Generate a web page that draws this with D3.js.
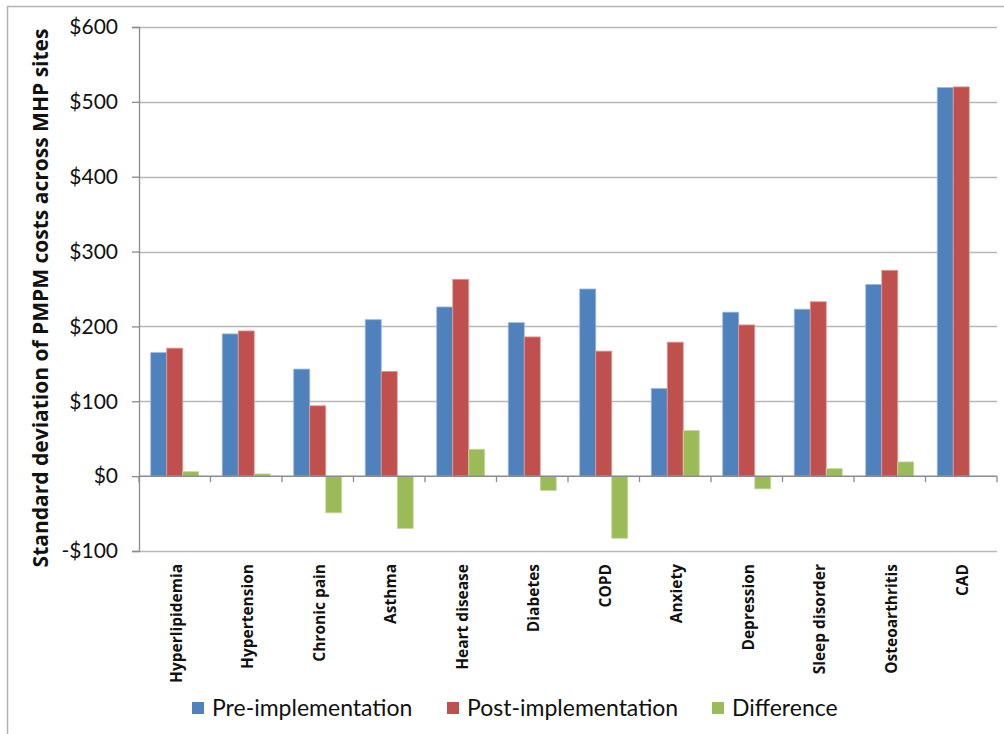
<!DOCTYPE html>
<html>
<head>
<meta charset="utf-8">
<script src="https://cdn.jsdelivr.net/npm/d3@7"></script>
<style>
  html, body { margin: 0; padding: 0; background: #fff; }
  svg { display: block; }
</style>
</head>
<body>
<svg id="chart" width="1004" height="734"></svg>
<script>
// Standard deviation of PMPM costs by condition, before and after implementation
const categories = ["Hyperlipidemia", "Hypertension", "Chronic pain", "Asthma", "Heart disease",
  "Diabetes", "COPD", "Anxiety", "Depression", "Sleep disorder", "Osteoarthritis", "CAD"];
const preValues  = [165, 190, 143, 209, 226, 205, 250, 117, 219, 223, 256, 519];
const postValues = [171, 194,  94, 140, 263, 186, 167, 179, 202, 233, 275, 520];
const diffValues = [6,   3,  -49, -70,  36, -19, -83,  61, -17,  10,  19,   0];
const seriesNames = ["Pre-implementation", "Post-implementation", "Difference"];
const seriesColors = ["#4F81BD", "#C0504D", "#9BBB59"];
const seriesEdges = ["#9DB5DA", "#DE9C9A", "#C6DAA2"];
const yTicks = [-100, 0, 100, 200, 300, 400, 500, 600];

const svg = d3.select("#chart");
const plot = { left: 139, right: 997, top: 27, bottom: 551 };
const labelFont = "'Open Sans', Lato, sans-serif";
const textFont = "Lato, 'Open Sans', sans-serif";

// outer frame
svg.append("rect")
  .attr("x", 7.5).attr("y", 6.5).attr("width", 1010).attr("height", 740)
  .attr("fill", "none").attr("stroke", "#b3b3b3").attr("stroke-width", 1.5);

const x = d3.scaleBand().domain(categories).range([plot.left, plot.right]).paddingInner(0).paddingOuter(0);
const inner = d3.scaleBand().domain(seriesNames).range([11.75, x.bandwidth() - 11.75]);
const y = d3.scaleLinear().domain([-100, 600]).range([plot.bottom, plot.top]);

// horizontal gridlines
svg.append("g").selectAll("line").data(yTicks.filter(t => t !== 0)).join("line")
  .attr("x1", plot.left).attr("x2", plot.right)
  .attr("y1", d => Math.round(y(d)) + 0.5).attr("y2", d => Math.round(y(d)) + 0.5)
  .attr("stroke", "#b8b8b8").attr("stroke-width", 1.3);

// bars
const rows = categories.map((c, i) => ({ c, vals: [preValues[i], postValues[i], diffValues[i]] }));
const groups = svg.append("g").selectAll("g").data(rows).join("g")
  .attr("transform", d => `translate(${x(d.c)},0)`);
groups.selectAll("rect")
  .data(d => d.vals.map((v, k) => ({ v, k })).filter(e => e.v !== 0))
  .join("rect")
  .attr("x", e => inner(seriesNames[e.k]))
  .attr("width", inner.bandwidth())
  .attr("y", e => y(Math.max(0, e.v)))
  .attr("height", e => Math.abs(y(e.v) - y(0)))
  .attr("fill", e => seriesColors[e.k])
  .attr("stroke", e => seriesEdges[e.k])
  .attr("stroke-width", 0.8);

// y axis
const yAxis = d3.axisLeft(y).tickValues(yTicks).tickSize(7).tickPadding(14)
  .tickFormat(d => (d < 0 ? "-$" : "$") + Math.abs(d));
const gy = svg.append("g").attr("transform", `translate(${plot.left},0)`).call(yAxis);
gy.select(".domain").attr("stroke", "#8c8c8c").attr("stroke-width", 1.3);
gy.selectAll(".tick line").attr("stroke", "#8c8c8c").attr("stroke-width", 1.3);
gy.selectAll(".tick text")
  .attr("font-family", textFont).attr("font-size", 21)
  .attr("fill", "#111");

// x axis at zero with boundary ticks
const zeroY = y(0);
svg.append("line").attr("x1", plot.left).attr("x2", plot.right)
  .attr("y1", zeroY).attr("y2", zeroY).attr("stroke", "#8c8c8c").attr("stroke-width", 1.5);
const bounds = categories.map(c => x(c)).concat([plot.right]);
svg.append("g").selectAll("line").data(bounds).join("line")
  .attr("x1", d => d).attr("x2", d => d).attr("y1", zeroY).attr("y2", zeroY + 6)
  .attr("stroke", "#8c8c8c").attr("stroke-width", 1.3);

// category labels, rotated
svg.append("g").selectAll("text").data(categories).join("text")
  .attr("transform", d => `translate(${x(d) + x.bandwidth() / 2 + 7},564) rotate(-90)`)
  .attr("text-anchor", "end")
  .attr("font-family", labelFont).attr("font-weight", "bold")
  .attr("font-size", 15.5).attr("fill", "#111")
  .text(d => d);

// y axis title
svg.append("text")
  .attr("transform", `translate(48,298) rotate(-90)`)
  .attr("text-anchor", "middle")
  .attr("font-family", labelFont).attr("font-weight", "bold")
  .attr("font-size", 21).attr("fill", "#111")
  .text("Standard deviation of PMPM costs across MHP sites");

// legend
const legendX = [192, 447, 712];
const lg = svg.append("g").selectAll("g").data(seriesNames).join("g")
  .attr("transform", (d, i) => `translate(${legendX[i]},702)`);
lg.append("rect").attr("x", 0).attr("y", 0).attr("width", 12).attr("height", 12)
  .attr("fill", (d, i) => seriesColors[i]);
lg.append("text").attr("x", 20).attr("y", 14)
  .attr("font-family", textFont).attr("font-size", 23)
  .attr("fill", "#111")
  .text(d => d);
</script>
</body>
</html>
